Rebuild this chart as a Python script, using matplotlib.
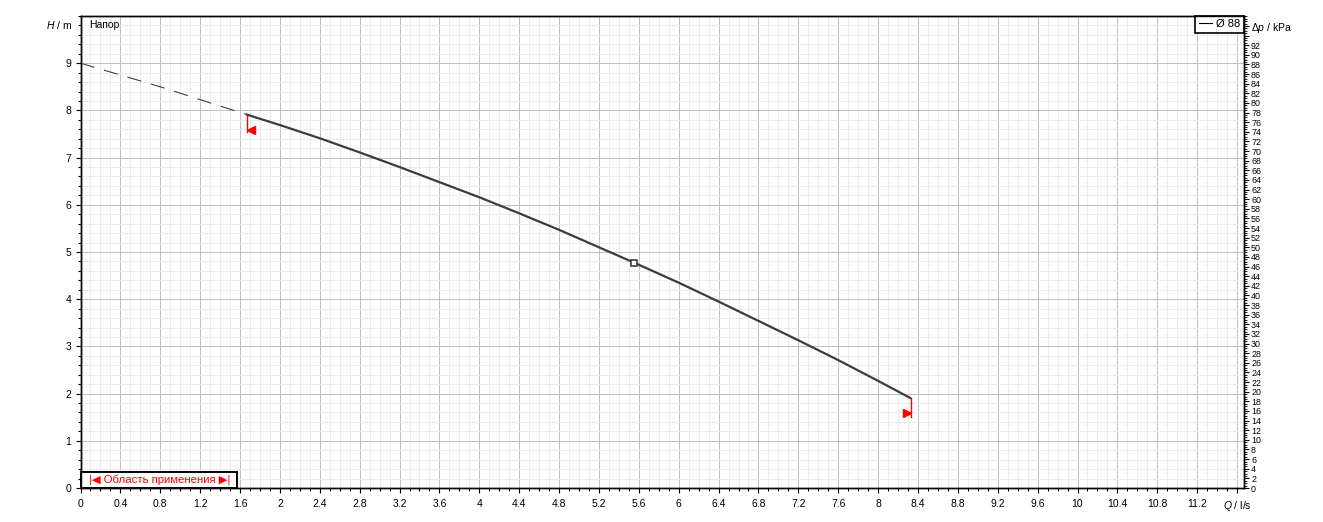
import matplotlib
matplotlib.use('Agg')
import matplotlib.pyplot as plt
from matplotlib.lines import Line2D
from matplotlib.patches import Rectangle
from matplotlib.ticker import MultipleLocator, FixedLocator

# データ
q_dash = [0.0, 0.8, 1.67]
h_dash = [9.0, 8.50, 7.91]

q_curve = [1.67, 2.0, 2.4, 2.8, 3.2, 3.6, 4.0, 4.4, 4.8, 5.2, 5.6,
           6.0, 6.4, 6.8, 7.2, 7.6, 8.0, 8.32]
h_curve = [7.91, 7.69, 7.41, 7.11, 6.80, 6.48, 6.16, 5.82, 5.47, 5.10, 4.73,
           4.35, 3.95, 3.54, 3.13, 2.71, 2.27, 1.91]

op_q = [5.55]
op_h = [4.77]

# 適用範囲の境界
lim_q = [1.665, 8.33]
lim_h_top = [7.91, 1.91]
lim_h_bot = [7.54, 1.51]
arrow_q = [1.71, 8.29]
arrow_h = [7.59, 1.59]

x_ticks = [round(0.4 * i, 1) for i in range(30)]
x_labels = [f'{v:g}' for v in x_ticks[:-1]] + ['$Q$ / l/s']
y_ticks = list(range(10))
kpa_ticks = list(range(0, 98, 2))
kpa_labels = [str(v) for v in kpa_ticks[:-2]] + ['', r'$\Delta p$ / kPa']

legend_label = 'Ø 88'
title_text = 'Напор'
range_text = '|◀ Область применения ▶|'

plt.rcParams['font.family'] = ['Liberation Sans', 'DejaVu Sans']
plt.rcParams['mathtext.fontset'] = 'custom'
plt.rcParams['mathtext.it'] = 'Liberation Sans:italic'
plt.rcParams['mathtext.rm'] = 'Liberation Sans'

W, H = 1323, 522
fig = plt.figure(figsize=(W / 100, H / 100), dpi=100)
ax = fig.add_axes([80.5 / W, 34 / H, 1163.5 / W, 472 / H])
ax.set_xlim(0, 11.67)
ax.set_ylim(0, 10)

# グリッド
ax.set_axisbelow(True)
ax.xaxis.set_major_locator(FixedLocator(x_ticks))
ax.xaxis.set_minor_locator(MultipleLocator(0.1))
ax.yaxis.set_major_locator(FixedLocator(y_ticks))
ax.yaxis.set_minor_locator(MultipleLocator(0.2))
ax.set_xticklabels(x_labels)
ax.grid(which='minor', color='#ececec', lw=0.75)
ax.grid(which='major', color='#c2c2c2', lw=0.75)

ax.tick_params(which='major', direction='out', length=3.6, width=0.8,
               labelsize=7.5, colors='black')
ax.tick_params(which='minor', direction='out', length=2.2, width=0.8)
ax.tick_params(axis='x', which='major', pad=4)
ax.tick_params(axis='y', which='major', pad=3)
for s in ax.spines.values():
    s.set_linewidth(1.0)
    s.set_color('black')

ax.text(-0.08, 9.8, '$H$ / m', ha='right', va='center', fontsize=7.5)

# 曲線
ax.plot(q_dash, h_dash, color='#404040', lw=0.8, dashes=(13, 9), zorder=3)
ax.plot(q_curve, h_curve, color='#3c3c3c', lw=1.6, zorder=4,
        solid_joinstyle='round')
ax.plot(op_q, op_h, ls='none', marker='s', ms=5, mfc='white',
        mec='#3c3c3c', mew=1.2, zorder=5)

# 範囲マーカー
for q, h1, h2 in zip(lim_q, lim_h_top, lim_h_bot):
    ax.plot([q, q], [h1, h2], color='red', lw=1.0, zorder=5)
ax.plot(arrow_q[:1], arrow_h[:1], ls='none', marker='<', ms=5.5,
        color='red', zorder=5)
ax.plot(arrow_q[1:], arrow_h[1:], ls='none', marker='>', ms=5.5,
        color='red', zorder=5)

ax.text(0.09, 9.8, title_text, ha='left', va='center', fontsize=7.5)

# 凡例
handle = Line2D([], [], color='black', lw=0.8)
leg = ax.legend([handle], [legend_label], loc='upper right',
                bbox_to_anchor=(1, 1), borderaxespad=0, fancybox=False,
                framealpha=1, edgecolor='black', fontsize=8,
                handlelength=1.2, handletextpad=0.4, borderpad=0.3)
leg.get_frame().set_linewidth(1.2)

# 適用範囲ボックス
ax.add_patch(Rectangle((0, 0), 1.57, 0.345, facecolor='white',
                       edgecolor='black', lw=1.4, zorder=6, clip_on=False))
ax.text(0.79, 0.17, range_text, ha='center', va='center', color='red',
        fontsize=8.2, zorder=7)

# 右軸 (kPa)
ax2 = ax.twinx()
ax2.set_ylim(0, 10 * 9.807)
ax2.yaxis.set_major_locator(FixedLocator(kpa_ticks))
ax2.yaxis.set_minor_locator(MultipleLocator(0.5))
ax2.set_yticklabels(kpa_labels)
ax2.tick_params(which='major', direction='out', length=3.6, width=0.8,
                labelsize=6.4, pad=1.5)
ax2.tick_params(which='minor', direction='out', length=1.8, width=0.6)
ax2.get_yticklabels()[-1].set_fontsize(7.5)
for s in ax2.spines.values():
    s.set_linewidth(1.0)

fig.savefig('out.png', dpi=100)
